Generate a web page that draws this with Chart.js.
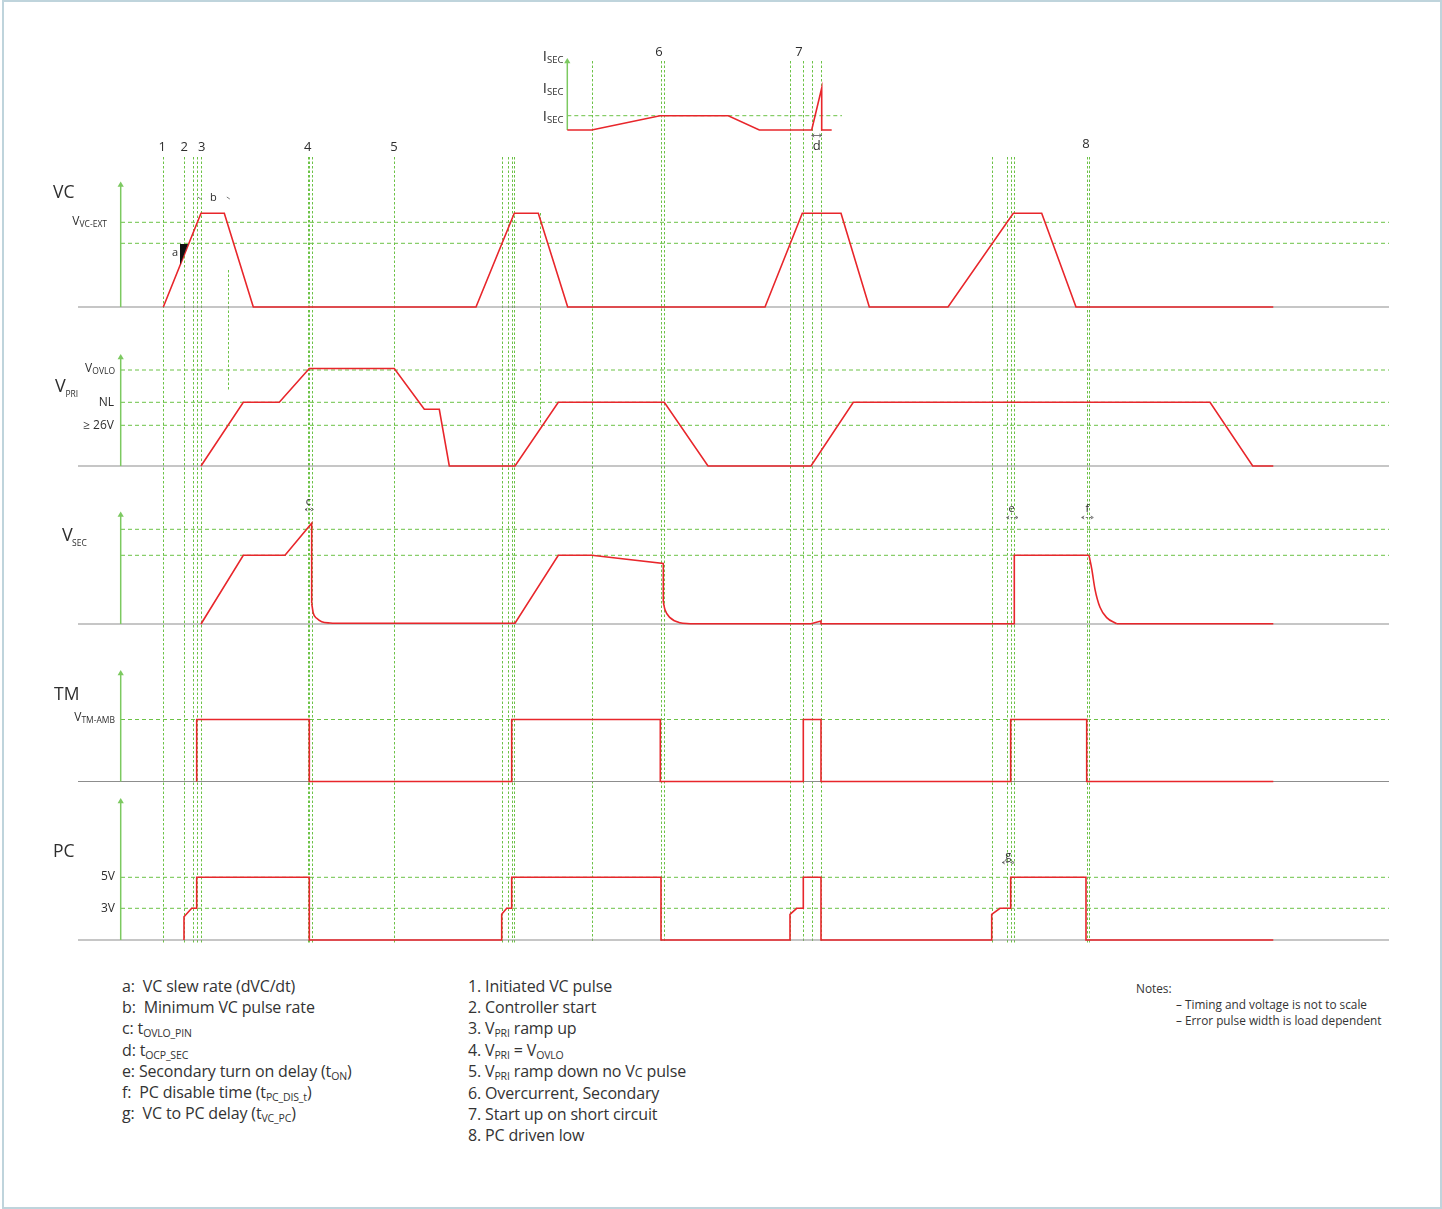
<!DOCTYPE html>
<html>
<head>
<meta charset="utf-8">
<script src="https://cdn.jsdelivr.net/npm/chart.js@4.4.1/dist/chart.umd.min.js"></script>
<style>
  html, body { margin: 0; padding: 0; background: #fff; }
  #wrap { position: relative; width: 1442px; height: 1209px; overflow: hidden; font-family: "Open Sans", "Noto Sans", sans-serif; color: #333; }
  #frame { position: absolute; left: 2px; top: 0; width: 1436px; height: 1205px; border: 2px solid #bfd4dc; }
  #c { position: absolute; left: 0; top: 0; }
  .col { position: absolute; font-size: 16px; line-height: 21.2px; letter-spacing: -0.15px; white-space: nowrap; }
  .col sub { font-size: 10.5px; vertical-align: -3px; line-height: 0; }
  .sc { font-size: 12.5px; }
  .notes { position: absolute; font-size: 11.8px; line-height: 14px; white-space: nowrap; }
</style>
</head>
<body>
<div id="wrap">
  <div id="frame"></div>
  <canvas id="c" width="1442" height="965"></canvas>

  <div class="col" style="left:122px; top:976px;">
    <div>a:&nbsp; VC slew rate (dVC/dt)</div>
    <div>b:&nbsp; Minimum VC pulse rate</div>
    <div>c: t<sub>OVLO_PIN</sub></div>
    <div>d: t<sub>OCP_SEC</sub></div>
    <div>e: Secondary turn on delay (t<sub>ON</sub>)</div>
    <div>f:&nbsp; PC disable time (t<sub>PC_DIS_t</sub>)</div>
    <div>g:&nbsp; VC to PC delay (t<sub>VC_PC</sub>)</div>
  </div>
  <div class="col" style="left:468px; top:976px;">
    <div>1. Initiated VC pulse</div>
    <div>2. Controller start</div>
    <div>3. V<sub>PRI</sub> ramp up</div>
    <div>4. V<sub>PRI</sub> = V<sub>OVLO</sub></div>
    <div>5. V<sub>PRI</sub> ramp down no V<span class="sc">C</span> pulse</div>
    <div>6. Overcurrent, Secondary</div>
    <div>7. Start up on short circuit</div>
    <div>8. PC driven low</div>
  </div>
  <div class="notes" style="left:1136px; top:981px;">Notes:</div>
  <div class="notes" style="left:1176px; top:997px;">– Timing and voltage is not to scale</div>
  <div class="notes" style="left:1176px; top:1013px;">– Error pulse width is load dependent</div>
</div>

<script>
// ---- signal waveforms (time in diagram units, level in units above each baseline)
const isecT = [567.3, 591.7, 660, 728.3, 759.3, 811.7, 821.7, 821.7, 831.7];
const isecV = [0, 0, 1.43, 1.43, 0, 0, 4.2, 0, 0];

const vcT = [163.3, 201, 224.3, 253.3, 476, 514.3, 538.3, 567.7, 765, 802.3, 841, 869.3, 948, 1013.3, 1041.7, 1076, 1273.3];
const vcV = [0, 9.37, 9.37, 0, 0, 9.37, 9.37, 0, 0, 9.37, 9.37, 0, 0, 9.37, 9.37, 0, 0];

const vpriT = [201, 243.3, 279.3, 309.3, 394.3, 424.3, 439.3, 449.3, 515, 558.3, 664.3, 708, 811, 853.3, 1210, 1252.7, 1273.3];
const vpriV = [0, 6.37, 6.37, 9.75, 9.75, 5.67, 5.67, 0, 0, 6.37, 6.37, 0, 0, 6.37, 6.37, 0, 0];

// straight parts of V_SEC (null = break where a decay curve takes over)
const vsecT = [201, 243.3, 285, 311.7, 311.7, 311.7, 340, 515, 558.3, 591.7, 663.3, 663.3, 663.3,
               690, 811, 821, 821, 1014.3, 1014.3, 1089, 1089, 1116.7, 1273.3];
const vsecV = [0, 6.87, 6.87, 10.07, 2.07, null, 0.07, 0.07, 6.87, 6.87, 6.06, 2.19, null,
               0.03, 0.03, 0.3, 0.03, 0.03, 6.87, 6.87, null, 0.03, 0.03];
// discharge curves of V_SEC
const vsecDecay1T = [311.7, 313.3, 316.7, 321.7, 330, 340];
const vsecDecay1V = [2.07, 1.07, 0.57, 0.23, 0.1, 0.07];
const vsecDecay2T = [663.3, 665, 670, 680, 690];
const vsecDecay2V = [2.19, 1.42, 0.64, 0.13, 0.03];
const vsecDecay3T = [1089, 1091.7, 1095, 1100, 1106.7, 1116.7];
const vsecDecay3V = [6.87, 5.54, 3.47, 1.67, 0.64, 0.03];

const tmT = [196.7, 196.7, 309.3, 309.3, 511.7, 511.7, 660.3, 660.3, 803.3, 803.3, 821, 821, 1010.7, 1010.7, 1086.7, 1086.7, 1273.3];
const tmV = [0, 6.2, 6.2, 0, 0, 6.2, 6.2, 0, 0, 6.2, 6.2, 0, 0, 6.2, 6.2, 0, 0];

const pcT = [184, 184, 191.7, 196.7, 196.7, 309.3, 309.3, 501.7, 501.7, 506.7, 511.7, 511.7, 661, 661, 790, 790, 796.7, 803.3, 803.3, 821, 821,
             991.7, 991.7, 1000, 1010.7, 1010.7, 1086, 1086, 1273.3];
const pcV = [0, 2.33, 3.17, 3.17, 6.27, 6.27, 0, 0, 2.57, 3.17, 3.17, 6.27, 6.27, 0, 0, 2.57, 3.17, 3.17, 6.27, 6.27, 0,
             0, 2.57, 3.17, 3.17, 6.27, 6.27, 0, 0];

// ---- reference levels per panel
const isecLevels = [1.43];
const vcLevels = [8.47, 6.37];
const vpriLevels = [9.6, 6.37, 4.07];
const vsecLevels = [9.47, 6.87];
const tmLevels = [6.2];
const pcLevels = [6.27, 3.17];

// ---- panels (top to bottom)
const panelIds = ['isec', 'vc', 'vpri', 'vsec', 'tm', 'pc'];
const panelMin = [-2, -2.3, -2.4, -2.6, -0.85, -2];
const panelMax = [9, 15.7, 13.6, 13.4, 13.15, 15];
const axisTops = [6.85, 12.2, 10.85, 10.9, 10.8, 13.85];
const axisTimes = [567.3, 120.7, 120.7, 120.7, 120.7, 120.7];
const baselineSpan = [78, 1389];
const levelSpan = [121, 1389];
const isecLevelSpan = [567.3, 842];

// ---- event guides
const guideTimes = [163.3, 184.3, 192.7, 196.7, 201, 307.7, 309.3, 311.7, 394, 501.7, 508.3, 511.7, 514.3,
                    991.7, 1006.7, 1010.7, 1014.3, 1086.7, 1089.3];
const isecGuideTimes = [591.7, 660.5, 664, 790, 803.3, 811.7, 821];
const fallGuideTimes = [227.7, 540];
const fallGuideFrom = [3.7, 9.4];
const fallGuideTo = [7.6, 4.1];

const eventLabels = ['1', '2', '3', '4', '5', '6', '7', '8'];
const eventTimes = [162.3, 184.3, 201.7, 307.7, 394, 659, 799, 1086];
const eventAxis = ['vc', 'vc', 'vc', 'vc', 'vc', 'isec', 'isec', 'vc'];
const eventLevel = [16, 16, 16, 16, 16, 7.8, 7.8, 16.3];

const noteLabels = ['a', 'b', 'c', 'd', 'e', 'f', 'g'];
const noteTimes = [175, 213.3, 308.3, 816.7, 1011.7, 1087.3, 1008.3];
const noteAxis = ['vc', 'vc', 'vsec', 'isec', 'vsec', 'vsec', 'pc'];
const noteLevel = [5.4, 10.93, 12.2, -1.6, 11.5, 11.5, 8.4];

const dimStart = [305, 811.7, 1006.7, 1081.7, 1002.3];
const dimEnd = [313.3, 821.7, 1018, 1093.3, 1014.3];
const dimAxis = ['vsec', 'isec', 'vsec', 'vsec', 'pc'];
const dimLevel = [11.5, -0.47, 10.7, 10.7, 7.8];

const GREEN = '#6cc246';
const AXIS_GREEN = '#7cc960';
const RED = '#e8262b';
const GRAY = '#8d8d8d';
const INK = '#2e2e2e';
const FONT = '"Open Sans", "Noto Sans", sans-serif';

const datasets = [];
function addLine(axis, t, v, style) {
  datasets.push(Object.assign({
    yAxisID: axis,
    data: t.map((x, i) => ({ x: x, y: v[i] })),
    showLine: true,
    spanGaps: false,
    pointRadius: 0,
    borderWidth: 1,
    fill: false,
    tension: 0
  }, style));
}

const red = { borderColor: RED, borderWidth: 1.6, order: 0 };
const redCurve = Object.assign({ cubicInterpolationMode: 'monotone' }, red);
addLine('isec', isecT, isecV, red);
addLine('vc', vcT, vcV, red);
addLine('vpri', vpriT, vpriV, red);
addLine('vsec', vsecT, vsecV, red);
addLine('vsec', vsecDecay1T, vsecDecay1V, redCurve);
addLine('vsec', vsecDecay2T, vsecDecay2V, redCurve);
addLine('vsec', vsecDecay3T, vsecDecay3V, redCurve);
addLine('tm', tmT, tmV, red);
addLine('pc', pcT, pcV, red);

panelIds.forEach((id, i) => {
  addLine(id, [axisTimes[i], axisTimes[i]], [0, axisTops[i]], {
    borderColor: AXIS_GREEN, borderWidth: 1.5, order: 1,
    pointRadius: [0, 3.6], pointStyle: 'triangle',
    pointBackgroundColor: AXIS_GREEN, pointBorderColor: AXIS_GREEN, pointBorderWidth: 0
  });
  if (id !== 'isec') {
    addLine(id, baselineSpan, [0, 0], { borderColor: GRAY, borderWidth: 1.2, order: 2 });
  }
});

const levelSets = { isec: isecLevels, vc: vcLevels, vpri: vpriLevels, vsec: vsecLevels, tm: tmLevels, pc: pcLevels };
Object.keys(levelSets).forEach(id => {
  const span = id === 'isec' ? isecLevelSpan : levelSpan;
  levelSets[id].forEach(lv => {
    addLine(id, span, [lv, lv], { borderColor: GREEN, borderWidth: 1, borderDash: [4, 3], order: 3 });
  });
});

const scales = {
  x: { type: 'linear', min: 0, max: 1442, display: false, ticks: { display: false }, grid: { display: false } }
};
panelIds.forEach((id, i) => {
  scales[id] = {
    type: 'linear', axis: 'y', position: 'right', stack: 'panels',
    stackWeight: panelMax[i] - panelMin[i],
    min: panelMin[i], max: panelMax[i],
    display: false, ticks: { display: false }, grid: { display: false }
  };
});

// text with a lowered subscript part: parts = [[text, size, dy], ...]
function drawParts(ctx, x, y, parts, align) {
  let total = 0;
  parts.forEach(p => { ctx.font = p[1] + 'px ' + FONT; total += ctx.measureText(p[0]).width; });
  let cx = align === 'right' ? x - total : x;
  parts.forEach(p => {
    ctx.font = p[1] + 'px ' + FONT;
    ctx.fillText(p[0], cx, y + (p[2] || 0));
    cx += ctx.measureText(p[0]).width;
  });
}

const decor = {
  id: 'decor',
  beforeDatasetsDraw(chart) {
    const { ctx, scales: s } = chart;
    const X = t => Math.round(s.x.getPixelForValue(t)) + 0.5;
    const Y = (a, v) => s[a].getPixelForValue(v);
    ctx.save();
    ctx.strokeStyle = GREEN;
    ctx.lineWidth = 1;
    ctx.setLineDash([2.5, 2]);
    const vline = (x, y1, y2) => { ctx.beginPath(); ctx.moveTo(x, y1); ctx.lineTo(x, y2); ctx.stroke(); };
    guideTimes.forEach(t => vline(X(t), Y('vc', 15.0), Y('pc', -0.3)));
    isecGuideTimes.forEach(t => vline(X(t), Y('isec', 6.9), Y('pc', -0.3)));
    fallGuideTimes.forEach((t, i) => vline(X(t), Y('vc', fallGuideFrom[i]), Y('vpri', fallGuideTo[i])));
    ctx.restore();
  },
  afterDatasetsDraw(chart) {
    const { ctx, scales: s } = chart;
    const X = t => s.x.getPixelForValue(t);
    const Y = (a, v) => s[a].getPixelForValue(v);
    ctx.save();
    ctx.textBaseline = 'middle';

    // slew-rate triangle "a"
    ctx.fillStyle = '#111';
    ctx.beginPath();
    ctx.moveTo(X(180), Y('vc', 6.3));
    ctx.lineTo(X(188), Y('vc', 6.3));
    ctx.lineTo(X(180), Y('vc', 4.2));
    ctx.closePath();
    ctx.fill();
    ctx.fillStyle = INK;

    // small dimension arrows
    ctx.strokeStyle = '#555';
    ctx.lineWidth = 0.8;
    dimStart.forEach((t, i) => {
      const y = Math.round(Y(dimAxis[i], dimLevel[i])) + 0.5;
      const x1 = X(t), x2 = X(dimEnd[i]);
      ctx.setLineDash(i === 1 ? [] : [2, 2]);
      ctx.beginPath(); ctx.moveTo(x1, y); ctx.lineTo(x2, y); ctx.stroke();
      ctx.setLineDash([]);
      ctx.beginPath();
      ctx.moveTo(x1 + 2.5, y - 1.5); ctx.lineTo(x1, y); ctx.lineTo(x1 + 2.5, y + 1.5);
      ctx.moveTo(x2 - 2.5, y - 1.5); ctx.lineTo(x2, y); ctx.lineTo(x2 - 2.5, y + 1.5);
      ctx.stroke();
    });
    // "b" pulse width ticks
    [199.3, 228.3].forEach(t => {
      const x = X(t), y = Y('vc', 10.9);
      ctx.beginPath();
      ctx.moveTo(x - 1.5, y - 1); ctx.lineTo(x + 1.5, y + 1);
      ctx.stroke();
    });

    // event numbers and note letters
    ctx.textAlign = 'center';
    ctx.font = '13px ' + FONT;
    eventLabels.forEach((l, i) => ctx.fillText(l, X(eventTimes[i]), Y(eventAxis[i], eventLevel[i])));
    noteLabels.forEach((l, i) => {
      ctx.font = (i === 3 ? 13 : 11) + 'px ' + FONT;
      ctx.fillText(l, X(noteTimes[i]), Y(noteAxis[i], noteLevel[i]));
    });

    // panel titles
    ctx.textAlign = 'left';
    ctx.font = '17.5px ' + FONT;
    ctx.fillText('VC', X(53), Y('vc', 11.4));
    ctx.fillText('TM', X(54), Y('tm', 8.65));
    ctx.fillText('PC', X(53), Y('pc', 8.8));
    ctx.font = '18px ' + FONT;
    ctx.fillText('V', X(55), Y('vpri', 7.9));
    ctx.fillText('V', X(62), Y('vsec', 8.8));
    ctx.font = '8.5px ' + FONT;
    ctx.fillText('PRI', X(65.5), Y('vpri', 7.1));
    ctx.fillText('SEC', X(72), Y('vsec', 8.0));

    // level labels
    const right = 'right';
    [7.3, 4.1, 1.3].forEach(v => drawParts(ctx, X(563.5), Y('isec', v), [['I', 15], ['SEC', 9.5, 3.5]], right));
    drawParts(ctx, X(107), Y('vc', 8.5), [['V', 12], ['VC-EXT', 8.5, 3]], right);
    drawParts(ctx, X(115), Y('vpri', 9.7), [['V', 12], ['OVLO', 8.5, 3]], right);
    drawParts(ctx, X(114), Y('vpri', 6.3), [['NL', 12]], right);
    drawParts(ctx, X(114), Y('vpri', 4.0), [['\u2265 26V', 12]], right);
    drawParts(ctx, X(115), Y('tm', 6.35), [['V', 12], ['TM-AMB', 8.5, 3]], right);
    drawParts(ctx, X(115), Y('pc', 6.3), [['5V', 12]], right);
    drawParts(ctx, X(115), Y('pc', 3.1), [['3V', 12]], right);
    ctx.restore();
  }
};

new Chart(document.getElementById('c').getContext('2d'), {
  type: 'scatter',
  data: { datasets: datasets },
  options: {
    responsive: false,
    animation: false,
    events: [],
    layout: { autoPadding: false, padding: { top: 40, bottom: 5, left: 0, right: 0 } },
    scales: scales,
    plugins: { legend: { display: false }, tooltip: { enabled: false } }
  },
  plugins: [decor]
});
</script>
</body>
</html>
